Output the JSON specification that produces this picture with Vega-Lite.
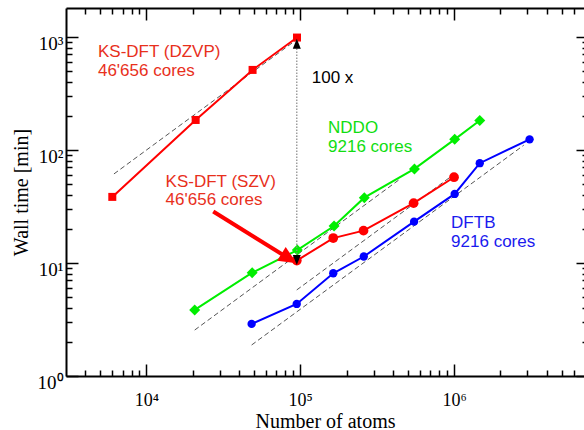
{
  "$schema": "https://vega.github.io/schema/vega-lite/v6.json",
  "width": 518,
  "height": 368,
  "autosize": {"type": "none"},
  "padding": {"left": 66, "top": 8, "right": 0, "bottom": 54},
  "background": "white",
  "config": {"view": {"stroke": null}, "axis": {"grid": false}},
  "datasets": {
    "series": [
      {"series": "DZVP", "n": 6000, "t": 38.4},
      {"series": "DZVP", "n": 20900, "t": 184},
      {"series": "DZVP", "n": 49000, "t": 510},
      {"series": "DZVP", "n": 95300, "t": 986},
      {"series": "SZV", "n": 95000, "t": 10.5},
      {"series": "SZV", "n": 164000, "t": 16.6},
      {"series": "SZV", "n": 258000, "t": 19.3},
      {"series": "SZV", "n": 546000, "t": 33.8},
      {"series": "SZV", "n": 1000000, "t": 57.3},
      {"series": "NDDO", "n": 20600, "t": 3.84},
      {"series": "NDDO", "n": 48700, "t": 8.2},
      {"series": "NDDO", "n": 95700, "t": 13.0},
      {"series": "NDDO", "n": 166000, "t": 21.2},
      {"series": "NDDO", "n": 261000, "t": 37.8},
      {"series": "NDDO", "n": 553000, "t": 67.9},
      {"series": "NDDO", "n": 1010000, "t": 124},
      {"series": "NDDO", "n": 1470000, "t": 182},
      {"series": "DFTB", "n": 48300, "t": 2.89},
      {"series": "DFTB", "n": 94900, "t": 4.34},
      {"series": "DFTB", "n": 164000, "t": 8.1},
      {"series": "DFTB", "n": 259000, "t": 11.4},
      {"series": "DFTB", "n": 550000, "t": 23.2},
      {"series": "DFTB", "n": 1010000, "t": 40.8},
      {"series": "DFTB", "n": 1470000, "t": 76.3},
      {"series": "DFTB", "n": 3100000, "t": 124}
    ],
    "guides": [
      {"g": "DZVP", "n": 6150, "t": 61.3},
      {"g": "DZVP", "n": 95000, "t": 947},
      {"g": "NDDO", "n": 20600, "t": 2.55},
      {"g": "NDDO", "n": 447000, "t": 55.4},
      {"g": "SZV", "n": 94900, "t": 5.77},
      {"g": "SZV", "n": 1000000, "t": 60.8},
      {"g": "DFTB", "n": 48300, "t": 1.88},
      {"g": "DFTB", "n": 2840000, "t": 110}
    ],
    "labels": [
      {"label": "KS-DFT (DZVP)\n46'656 cores", "n": 4840, "t": 659, "grp": "DZVP"},
      {"label": "KS-DFT (SZV)\n46'656 cores", "n": 13330, "t": 47.0, "grp": "SZV"},
      {"label": "NDDO\n9216 cores", "n": 151700, "t": 141, "grp": "NDDO"},
      {"label": "DFTB\n9216 cores", "n": 957000, "t": 20.3, "grp": "DFTB"},
      {"label": "100 x", "n": 118900, "t": 388, "grp": "ratio"}
    ]
  },
  "layer": [
    {
      "data": {"name": "guides"},
      "mark": {"type": "line", "color": "#555555", "strokeWidth": 1, "strokeDash": [5, 3]},
      "encoding": {
        "detail": {"field": "g", "type": "nominal"},
        "x": {
          "field": "n", "type": "quantitative",
          "scale": {"type": "log", "domain": [3000, 7000000], "nice": false},
          "axis": {
            "orient": "bottom",
            "values": [4000, 5000, 6000, 7000, 8000, 9000, 10000, 20000, 30000, 40000, 50000, 60000, 70000, 80000, 90000, 100000, 200000, 300000, 400000, 500000, 600000, 700000, 800000, 900000, 1000000, 2000000, 3000000, 4000000, 5000000, 6000000],
            "labelExpr": "datum.value == 10000 ? '10⁴' : datum.value == 100000 ? '10⁵' : datum.value == 1000000 ? '10⁶' : ''",
            "tickSize": {"condition": {"test": "datum.value == 10000 || datum.value == 100000 || datum.value == 1000000", "value": -12}, "value": -6},
            "labelPadding": 27,
            "labelFont": "Liberation Serif", "labelFontSize": 18, "labelColor": "black",
            "labelFlush": false, "labelOverlap": false,
            "domainColor": "black", "domainWidth": 2, "tickColor": "black", "tickWidth": 1.5,
            "title": "Number of atoms", "titleFont": "Liberation Serif", "titleFontSize": 20,
            "titleFontWeight": "normal", "titleColor": "black", "titlePadding": -4
          }
        },
        "y": {
          "field": "t", "type": "quantitative",
          "scale": {"type": "log", "domain": [1, 1800], "nice": false},
          "axis": {
            "orient": "left",
            "values": [1, 2, 3, 4, 5, 6, 7, 8, 9, 10, 20, 30, 40, 50, 60, 70, 80, 90, 100, 200, 300, 400, 500, 600, 700, 800, 900, 1000],
            "labelExpr": "datum.value == 1 ? '10⁰' : datum.value == 10 ? '10¹' : datum.value == 100 ? '10²' : datum.value == 1000 ? '10³' : ''",
            "tickSize": {"condition": {"test": "datum.value == 1 || datum.value == 10 || datum.value == 100 || datum.value == 1000", "value": -12}, "value": -6},
            "labelPadding": 15,
            "labelOffset": 6.5,
            "labelFont": "Liberation Serif", "labelFontSize": 19, "labelColor": "black",
            "labelFlush": false, "labelOverlap": false,
            "domainColor": "black", "domainWidth": 2, "tickColor": "black", "tickWidth": 1.5,
            "title": "Wall time [min]", "titleFont": "Liberation Serif", "titleFontSize": 20,
            "titleFontWeight": "normal", "titleColor": "black", "titlePadding": 6
          }
        }
      }
    },
    {
      "data": {"name": "series"},
      "mark": {"type": "line", "strokeWidth": 2},
      "encoding": {
        "x": {"field": "n", "type": "quantitative", "scale": {"type": "log", "domain": [3000, 7000000], "nice": false}, "axis": null},
        "y": {"field": "t", "type": "quantitative", "scale": {"type": "log", "domain": [1, 1800], "nice": false}, "axis": null},
        "color": {"field": "series", "type": "nominal", "scale": {"domain": ["DZVP", "SZV", "NDDO", "DFTB"], "range": ["#ff0000", "#ff0000", "#00ee00", "#0000ff"]}, "legend": null}
      }
    },
    {
      "data": {"name": "series"},
      "transform": [{"filter": "datum.series == 'DZVP'"}],
      "mark": {"type": "point", "shape": "square", "size": 64, "filled": true, "opacity": 1, "color": "#ff0000"},
      "encoding": {
        "x": {"field": "n", "type": "quantitative", "scale": {"type": "log", "domain": [3000, 7000000], "nice": false}, "axis": null},
        "y": {"field": "t", "type": "quantitative", "scale": {"type": "log", "domain": [1, 1800], "nice": false}, "axis": null}
      }
    },
    {
      "data": {"name": "series"},
      "transform": [{"filter": "datum.series == 'SZV'"}],
      "mark": {"type": "point", "shape": "circle", "size": 95, "filled": true, "opacity": 1, "color": "#ff0000"},
      "encoding": {
        "x": {"field": "n", "type": "quantitative", "scale": {"type": "log", "domain": [3000, 7000000], "nice": false}, "axis": null},
        "y": {"field": "t", "type": "quantitative", "scale": {"type": "log", "domain": [1, 1800], "nice": false}, "axis": null}
      }
    },
    {
      "data": {"name": "series"},
      "transform": [{"filter": "datum.series == 'NDDO'"}],
      "mark": {"type": "point", "shape": "diamond", "size": 120, "filled": true, "opacity": 1, "color": "#00ee00"},
      "encoding": {
        "x": {"field": "n", "type": "quantitative", "scale": {"type": "log", "domain": [3000, 7000000], "nice": false}, "axis": null},
        "y": {"field": "t", "type": "quantitative", "scale": {"type": "log", "domain": [1, 1800], "nice": false}, "axis": null}
      }
    },
    {
      "data": {"name": "series"},
      "transform": [{"filter": "datum.series == 'DFTB'"}],
      "mark": {"type": "point", "shape": "circle", "size": 70, "filled": true, "opacity": 1, "color": "#0000ff"},
      "encoding": {
        "x": {"field": "n", "type": "quantitative", "scale": {"type": "log", "domain": [3000, 7000000], "nice": false}, "axis": null},
        "y": {"field": "t", "type": "quantitative", "scale": {"type": "log", "domain": [1, 1800], "nice": false}, "axis": null}
      }
    },
    {
      "data": {"values": [{"n": 95000, "t": 10.6, "t2": 940}]},
      "mark": {"type": "rule", "color": "#888888", "strokeWidth": 1.2, "strokeDash": [1.5, 1.5]},
      "encoding": {
        "x": {"field": "n", "type": "quantitative", "scale": {"type": "log", "domain": [3000, 7000000], "nice": false}, "axis": null},
        "y": {"field": "t", "type": "quantitative", "scale": {"type": "log", "domain": [1, 1800], "nice": false}, "axis": null},
        "y2": {"field": "t2"}
      }
    },
    {
      "data": {"values": [{"n": 27200, "t": 28.5, "n2": 85700, "t2": 10.8}]},
      "mark": {"type": "rule", "color": "#ff0000", "strokeWidth": 4},
      "encoding": {
        "x": {"field": "n", "type": "quantitative", "scale": {"type": "log", "domain": [3000, 7000000], "nice": false}, "axis": null},
        "y": {"field": "t", "type": "quantitative", "scale": {"type": "log", "domain": [1, 1800], "nice": false}, "axis": null},
        "x2": {"field": "n2"},
        "y2": {"field": "t2"}
      }
    },
    {
      "data": {"values": [{"n": 94900, "t": 9.94}]},
      "mark": {"type": "point", "shape": "M0,0L-2,-0.9L-2,0.9Z", "size": 324, "angle": 31.7, "filled": true, "color": "#ff0000", "opacity": 1, "strokeWidth": 0},
      "encoding": {
        "x": {"field": "n", "type": "quantitative", "scale": {"type": "log", "domain": [3000, 7000000], "nice": false}, "axis": null},
        "y": {"field": "t", "type": "quantitative", "scale": {"type": "log", "domain": [1, 1800], "nice": false}, "axis": null}
      }
    },
    {
      "data": {"values": [{"n": 95000, "t": 960}]},
      "mark": {"type": "point", "shape": "M0,0L-0.8,2L0.8,2Z", "size": 100, "filled": true, "color": "#000000", "opacity": 1, "strokeWidth": 0},
      "encoding": {
        "x": {"field": "n", "type": "quantitative", "scale": {"type": "log", "domain": [3000, 7000000], "nice": false}, "axis": null},
        "y": {"field": "t", "type": "quantitative", "scale": {"type": "log", "domain": [1, 1800], "nice": false}, "axis": null}
      }
    },
    {
      "data": {"values": [{"n": 95000, "t": 9.6}]},
      "mark": {"type": "point", "shape": "M0,0L-0.8,-2L0.8,-2Z", "size": 100, "filled": true, "color": "#000000", "opacity": 1, "strokeWidth": 0},
      "encoding": {
        "x": {"field": "n", "type": "quantitative", "scale": {"type": "log", "domain": [3000, 7000000], "nice": false}, "axis": null},
        "y": {"field": "t", "type": "quantitative", "scale": {"type": "log", "domain": [1, 1800], "nice": false}, "axis": null}
      }
    },
    {
      "data": {"name": "labels"},
      "mark": {"type": "text", "align": "left", "baseline": "alphabetic", "font": "Liberation Sans", "fontSize": 17, "lineBreak": "\n", "lineHeight": 18.5},
      "encoding": {
        "x": {"field": "n", "type": "quantitative", "scale": {"type": "log", "domain": [3000, 7000000], "nice": false}, "axis": null},
        "y": {"field": "t", "type": "quantitative", "scale": {"type": "log", "domain": [1, 1800], "nice": false}, "axis": null},
        "text": {"field": "label", "type": "nominal"},
        "fill": {"field": "grp", "type": "nominal", "scale": {"domain": ["DZVP", "SZV", "NDDO", "DFTB", "ratio"], "range": ["#e8301c", "#e8301c", "#11dd11", "#1a1aee", "#000000"]}, "legend": null}
      }
    },
    {
      "data": {"name": "series"},
      "mark": {"type": "point", "opacity": 0},
      "encoding": {
        "x": {
          "field": "n", "type": "quantitative",
          "scale": {"type": "log", "domain": [3000, 7000000], "nice": false},
          "axis": {
            "orient": "top",
            "values": [4000, 5000, 6000, 7000, 8000, 9000, 10000, 20000, 30000, 40000, 50000, 60000, 70000, 80000, 90000, 100000, 200000, 300000, 400000, 500000, 600000, 700000, 800000, 900000, 1000000, 2000000, 3000000, 4000000, 5000000, 6000000],
            "labels": false,
            "tickSize": {"condition": {"test": "datum.value == 10000 || datum.value == 100000 || datum.value == 1000000", "value": -12}, "value": -6},
            "domainColor": "black", "domainWidth": 2, "tickColor": "black", "tickWidth": 1.5,
            "title": null
          }
        },
        "y": {
          "field": "t", "type": "quantitative",
          "scale": {"type": "log", "domain": [1, 1800], "nice": false},
          "axis": {
            "orient": "right",
            "offset": 4,
            "values": [1, 2, 3, 4, 5, 6, 7, 8, 9, 10, 20, 30, 40, 50, 60, 70, 80, 90, 100, 200, 300, 400, 500, 600, 700, 800, 900, 1000],
            "labels": false,
            "domain": false,
            "tickSize": {"condition": {"test": "datum.value == 1 || datum.value == 10 || datum.value == 100 || datum.value == 1000", "value": -12}, "value": -6},
            "tickColor": "black", "tickWidth": 1.5,
            "title": null
          }
        }
      }
    }
  ],
  "resolve": {"axis": {"x": "independent", "y": "independent"}}
}
